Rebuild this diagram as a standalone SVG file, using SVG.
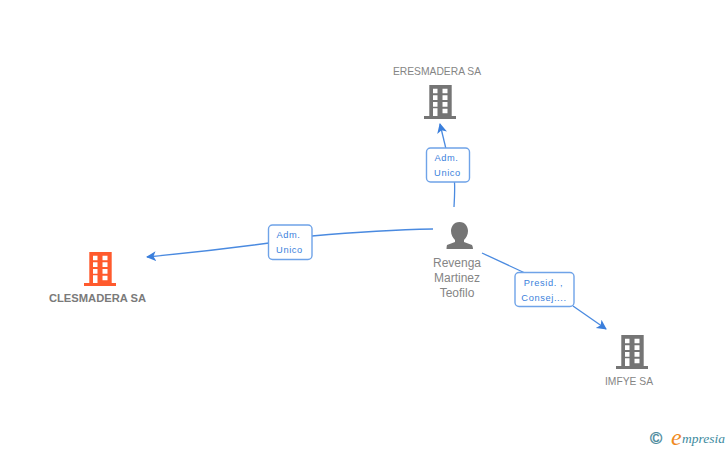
<svg xmlns="http://www.w3.org/2000/svg" width="728" height="450" viewBox="0 0 728 450">
<style>
text{font-family:"Liberation Sans",Arial,sans-serif}
.n{font-size:10.300px;fill:#858585;text-anchor:middle}
.p{font-size:12px;fill:#858585;text-anchor:middle}
.b{font-size:11.200px;font-weight:bold;fill:#7a7a7a;text-anchor:middle}
.l{font-size:9.300px;fill:#3b7fdc;text-anchor:middle;letter-spacing:.6px}
.c{fill:none;stroke:#4a8ae0;stroke-width:1.3}
.box{fill:#fff;stroke:#6fa3e8;stroke-width:1.4}
.lg{font-family:"Liberation Serif",serif;font-style:italic}
</style>
<defs>
<marker id="a" markerWidth="12" markerHeight="12" refX="9" refY="5" orient="auto" markerUnits="userSpaceOnUse"><path d="M0 0L10 5L0 10L2.500 5Z" fill="#3b7fdc"/></marker>
<symbol id="bld" width="32" height="34" viewBox="0 0 32 34" overflow="visible">
<path fill-rule="evenodd" d="M5.300 0H27.700V31H32V34H0V31H5.300ZM9 3.700V8.300H13.500V3.700ZM18.500 3.700V8.300H23.500V3.700ZM9 10.300V15H13.500V10.300ZM18.500 10.300V15H23.500V10.300ZM9 17V21.700H13.500V17ZM18.500 17V21.700H23.500V17ZM9 23.300V31H13.500V23.300ZM18.500 23.700V28.300H23.500V23.700Z"/>
</symbol>
</defs>
<g id="connectors">
<path class="c" d="M454 207C454.500 197 455 190 454.500 182"/>
<path class="c" marker-end="url(#a)" d="M446 149L440 124"/>
<path class="c" d="M433 229Q380 230 312 236"/>
<path class="c" marker-end="url(#a)" d="M269 243Q210 251 147 257"/>
<path class="c" d="M482 253L525 273"/>
<path class="c" marker-end="url(#a)" d="M573 306L606 329"/>
</g>
<g id="node-eresmadera">
<text class="n" x="437" y="75">ERESMADERA SA</text>
<use href="#bld" x="424" y="85" fill="#757575"/>
</g>
<g id="node-clesmadera">
<use href="#bld" x="84" y="252" fill="#ff5a2d"/>
<text class="b" x="97.500" y="302">CLESMADERA SA</text>
</g>
<g id="node-imfye">
<use href="#bld" x="616" y="335" fill="#757575"/>
<text class="n" x="629" y="385">IMFYE SA</text>
</g>
<g id="node-person">
<path fill="#757575" d="M459.500 222C453.500 222 451 227 451 231C451 235 453 238 455 240V242L447 245Q446.500 247 446.500 249H473Q473 247 472 245L464 242V240C466 238 468 235 468 231C468 227 465.500 222 459.500 222Z"/>
<text class="p" x="457" y="267">Revenga</text>
<text class="p" x="457" y="282">Martinez</text>
<text class="p" x="457" y="297">Teofilo</text>
</g>
<g id="label-adm-top">
<rect class="box" x="426.500" y="148" width="43" height="34" rx="4"/>
<text class="l" x="446.500" y="161">Adm.</text>
<text class="l" x="447.500" y="176">Unico</text>
</g>
<g id="label-adm-left">
<rect class="box" x="268.500" y="225" width="43.500" height="34.500" rx="4"/>
<text class="l" x="288.500" y="238">Adm.</text>
<text class="l" x="289.500" y="253">Unico</text>
</g>
<g id="label-presid">
<rect class="box" x="515" y="272.500" width="59" height="34" rx="4"/>
<text class="l" x="543.500" y="286">Presid. ,</text>
<text class="l" x="544" y="301">Consej....</text>
</g>
<g id="logo">
<text x="650" y="444" font-size="16.500" fill="#4a8a9c" stroke="#4a8a9c" stroke-width=".4">©</text>
<text class="lg" x="671" y="445" font-size="24" fill="#f08a1e">e</text>
<text class="lg" x="682" y="443" font-size="13.500" fill="#3d8a9e">mpresia</text>
</g>
</svg>
